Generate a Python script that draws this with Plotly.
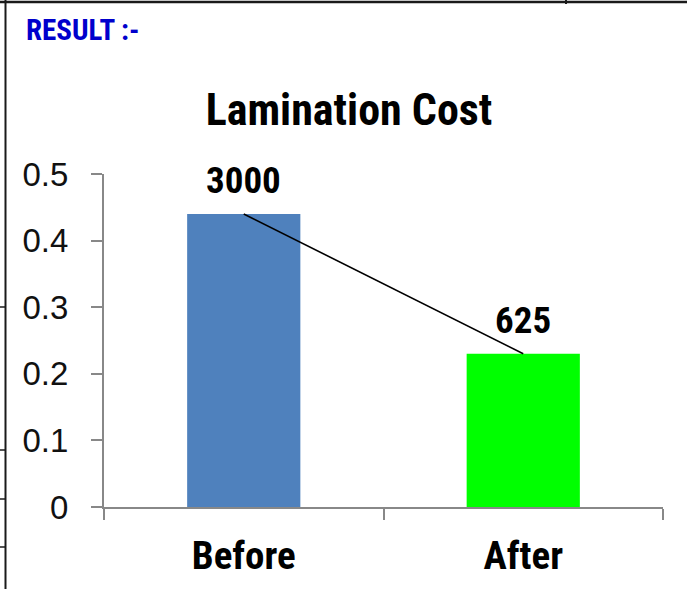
import plotly.graph_objects as go

categories = ["Before", "After"]
values = [0.44, 0.23]
labels = ["3000", "625"]
bar_colors = ["#4F81BD", "#00FF00"]
y_ticks = [0, 0.1, 0.2, 0.3, 0.4, 0.5]
y_ticktext = ["0", "0.1", "0.2", "0.3", "0.4", "0.5"]

W, H = 687, 589
L, R, T, B = 104, 24, 174, 82
PW, PH = W - L - R, H - T - B

def px(x):
    return (x - L) / PW

def py(y):
    return (H - B - y) / PH

NARROW = "Liberation Sans Narrow, Arial Narrow, Roboto Condensed, sans-serif"

fig = go.Figure()
fig.add_trace(go.Bar(x=categories, y=values, marker=dict(color=bar_colors, line=dict(width=0)),
                     width=0.405, showlegend=False, hoverinfo="skip"))
fig.add_trace(go.Scatter(x=categories, y=values, mode="lines", line=dict(color="black", width=1.6),
                         showlegend=False, hoverinfo="skip"))

for c, v, t in zip(categories, values, labels):
    fig.add_annotation(x=c, y=v, text=t, showarrow=False, yshift=33, yanchor="middle",
                       font=dict(family=NARROW, size=37, color="black", weight="bold"))

fig.add_annotation(xref="paper", yref="paper", x=px(24), y=py(30), xanchor="left", yanchor="middle",
                   text="RESULT :-", showarrow=False,
                   font=dict(family=NARROW, size=29, color="#0000CC", weight="bold"))

shape_line = dict(color="#1a1a1a", width=2.5)
fig.add_shape(type="line", xref="paper", yref="paper", x0=px(0), x1=px(W), y0=py(2), y1=py(2), line=shape_line)
fig.add_shape(type="line", xref="paper", yref="paper", x0=px(5.5), x1=px(5.5), y0=py(0), y1=py(H), line=dict(color="#1a1a1a", width=2))
fig.add_shape(type="line", xref="paper", yref="paper", x0=px(566), x1=px(566), y0=py(0), y1=py(4), line=dict(color="#1a1a1a", width=2))
for yy in [307, 450, 499, 547]:
    fig.add_shape(type="line", xref="paper", yref="paper", x0=px(0), x1=px(5), y0=py(yy), y1=py(yy), line=dict(color="#1a1a1a", width=1.5))

fig.update_layout(
    width=W, height=H,
    margin=dict(l=L, r=R, t=T, b=B, autoexpand=False),
    paper_bgcolor="white", plot_bgcolor="white",
    bargap=0.595,
    title=dict(text="<b>Lamination Cost</b>", x=349 / W, xref="container", xanchor="center",
               y=1 - 110 / H, yref="container", yanchor="middle",
               font=dict(family=NARROW, size=44, color="black")),
)
fig.update_xaxes(range=[-0.5, 1.5], showline=True, linecolor="#888888", linewidth=2,
                 ticks="outside", tickson="boundaries", ticklen=11, tickwidth=2, tickcolor="#888888",
                 tickfont=dict(family=NARROW, size=39, color="black", weight="bold"),
                 ticklabelstandoff=13, showgrid=False, zeroline=False)
fig.update_yaxes(range=[0, 0.5], tickvals=y_ticks, ticktext=y_ticktext, showline=True,
                 linecolor="#888888", linewidth=2, ticks="outside", ticklen=11, tickwidth=2,
                 tickcolor="#888888", tickfont=dict(family="Liberation Sans, sans-serif", size=33, color="#111111"),
                 ticklabelstandoff=16, showgrid=False, zeroline=False)

fig.write_html("out.html", config={"displayModeBar": False},
               post_script="document.body.style.margin='0';document.body.style.overflow='hidden';")
